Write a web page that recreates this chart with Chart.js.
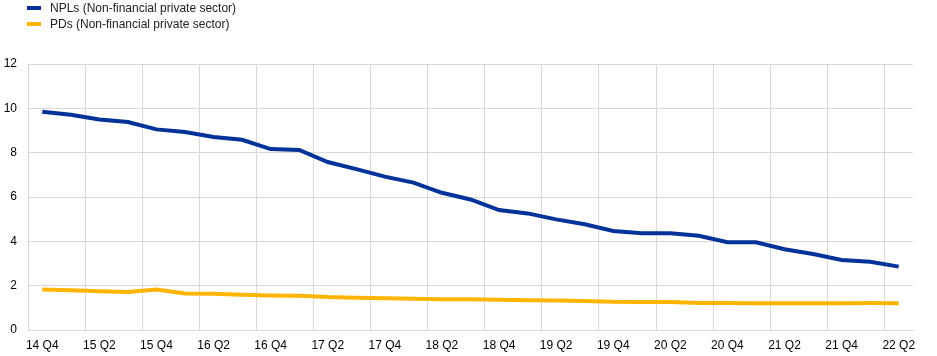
<!DOCTYPE html>
<html>
<head>
<meta charset="utf-8">
<script src="https://cdn.jsdelivr.net/npm/chart.js@4/dist/chart.umd.min.js"></script>
<style>
  html, body { margin: 0; padding: 0; background: #fff; }
  #wrap { position: relative; width: 937px; height: 356px; }
  #legend { position: absolute; left: 27px; top: 0px; font-family: "Liberation Sans", Arial, sans-serif; font-size: 12px; color: #222; }
  .item { position: relative; height: 16px; line-height: 16px; white-space: nowrap; }
  .sw { position: absolute; left: 0; top: 6px; width: 14px; height: 4px; }
  .txt { position: absolute; left: 23px; top: 0; }
  canvas { position: absolute; left: 0; top: 0; }
</style>
</head>
<body>
<div id="wrap">
  <canvas id="c" width="937" height="356"></canvas>
  <div id="legend"></div>
</div>
<script>
const categories = ["14 Q4","15 Q1","15 Q2","15 Q3","15 Q4","16 Q1","16 Q2","16 Q3","16 Q4","17 Q1","17 Q2","17 Q3","17 Q4","18 Q1","18 Q2","18 Q3","18 Q4","19 Q1","19 Q2","19 Q3","19 Q4","20 Q1","20 Q2","20 Q3","20 Q4","21 Q1","21 Q2","21 Q3","21 Q4","22 Q1","22 Q2"];
const nplValues = [9.85,9.71,9.50,9.38,9.05,8.93,8.71,8.58,8.16,8.12,7.58,7.26,6.92,6.65,6.19,5.89,5.41,5.26,4.99,4.77,4.47,4.36,4.36,4.25,3.96,3.96,3.64,3.43,3.16,3.08,2.86];
const pdValues = [1.83,1.79,1.75,1.71,1.83,1.65,1.64,1.59,1.56,1.55,1.49,1.46,1.43,1.41,1.39,1.39,1.37,1.34,1.33,1.31,1.27,1.26,1.26,1.22,1.22,1.21,1.21,1.21,1.21,1.22,1.21];
const seriesNames = ["NPLs (Non-financial private sector)", "PDs (Non-financial private sector)"];
const seriesColors = ["#003299", "#FFB400"];

const legend = document.getElementById('legend');
seriesNames.forEach((n, i) => {
  const d = document.createElement('div');
  d.className = 'item';
  d.innerHTML = '<span class="sw" style="background:' + seriesColors[i] + '"></span><span class="txt">' + n + '</span>';
  legend.appendChild(d);
});

const gridColor = '#d9d9d9';
const n = categories.length;

new Chart(document.getElementById('c'), {
  type: 'line',
  data: {
    labels: categories,
    datasets: [
      { label: seriesNames[0], data: nplValues, borderColor: seriesColors[0], backgroundColor: seriesColors[0], borderWidth: 4, pointRadius: 0, tension: 0, fill: false },
      { label: seriesNames[1], data: pdValues, borderColor: seriesColors[1], backgroundColor: seriesColors[1], borderWidth: 4, pointRadius: 0, tension: 0, fill: false }
    ]
  },
  options: {
    responsive: false,
    animation: false,
    layout: { padding: { top: 64, right: 24, left: 0, bottom: 0 } },
    plugins: { legend: { display: false }, tooltip: { enabled: false } },
    scales: {
      x: {
        offset: true,
        grid: {
          offset: true,
          drawTicks: false,
          lineWidth: 1,
          color: (ctx) => (ctx.index % 2 === 0 || ctx.index === n) ? gridColor : 'rgba(0,0,0,0)'
        },
        border: { color: gridColor, width: 1 },
        ticks: {
          autoSkip: false,
          maxRotation: 0,
          minRotation: 0,
          padding: 8,
          color: '#000',
          font: { family: '"Liberation Sans", Arial, sans-serif', size: 12 },
          callback: function(v, i) { return i % 2 === 0 ? this.getLabelForValue(v) : ''; }
        },
        afterFit: (s) => { s.height = 26; }
      },
      y: {
        min: 0, max: 12,
        grid: { color: gridColor, drawTicks: false, lineWidth: 1 },
        border: { color: gridColor, width: 1 },
        ticks: {
          stepSize: 2,
          padding: 11,
          color: '#000',
          font: { family: '"Liberation Sans", Arial, sans-serif', size: 12 }
        },
        afterFit: (s) => { s.width = 28; }
      }
    }
  }
});
</script>
</body>
</html>
